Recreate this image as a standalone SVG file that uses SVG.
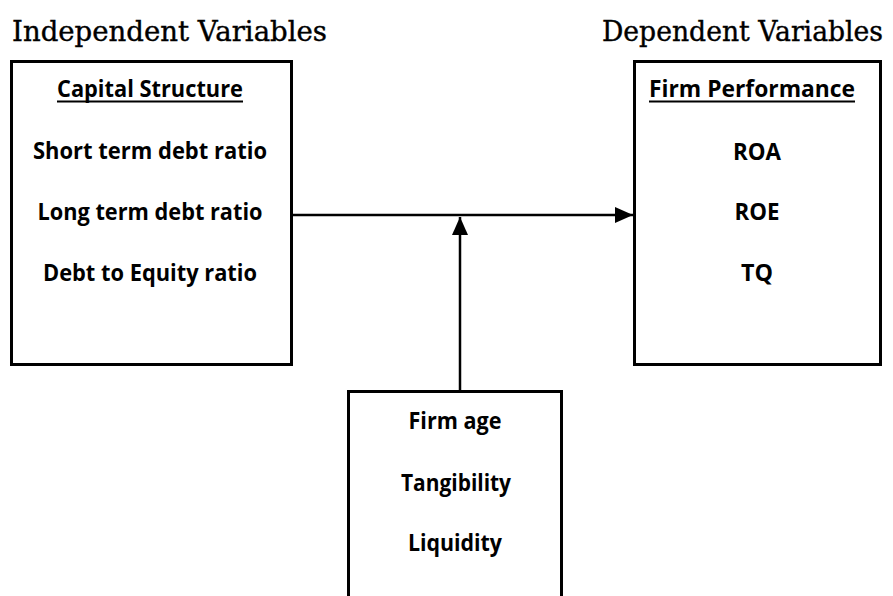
<svg xmlns="http://www.w3.org/2000/svg" width="893" height="596" viewBox="0 0 893 596">
<style>
.box{fill:#fff;stroke:#000;stroke-width:3}
.title{font-family:"DejaVu Serif","Liberation Serif",serif;font-size:28px;fill:#000;stroke:#000;stroke-width:0.4}
.lbl{font-family:"Open Sans","Liberation Sans",Arial,sans-serif;font-weight:bold;font-size:23.5px;fill:#000;text-anchor:middle}
.ul{stroke:#000;stroke-width:2}
.conn{stroke:#000;stroke-width:2.5;fill:none}
</style>
<defs>
<marker id="arr" viewBox="0 0 18 16" refX="18" refY="8" markerWidth="18" markerHeight="16" markerUnits="userSpaceOnUse" orient="auto">
<path d="M0,0 L18,8 L0,16 Z" fill="#000"/>
</marker>
</defs>
<text class="title" x="12" y="41" textLength="315" lengthAdjust="spacingAndGlyphs">Independent Variables</text>
<text class="title" x="602" y="41" textLength="281" lengthAdjust="spacingAndGlyphs">Dependent Variables</text>
<g id="connectors">
<line class="conn" x1="293" y1="215" x2="633" y2="215" marker-end="url(#arr)"/>
<line class="conn" x1="460" y1="391" x2="460" y2="217" marker-end="url(#arr)"/>
</g>
<g id="capital-structure">
<rect class="box" x="11.5" y="61.5" width="280" height="303"/>
<text class="lbl" x="150" y="97" textLength="186" lengthAdjust="spacingAndGlyphs">Capital Structure</text>
<line class="ul" x1="57" y1="101.5" x2="243" y2="101.5"/>
<text class="lbl" x="150" y="159" textLength="234" lengthAdjust="spacingAndGlyphs">Short term debt ratio</text>
<text class="lbl" x="150" y="220" textLength="225" lengthAdjust="spacingAndGlyphs">Long term debt ratio</text>
<text class="lbl" x="150" y="281" textLength="214" lengthAdjust="spacingAndGlyphs">Debt to Equity ratio</text>
</g>
<g id="firm-performance">
<rect class="box" x="634.5" y="61.5" width="246" height="303"/>
<text class="lbl" x="752" y="97" textLength="206" lengthAdjust="spacingAndGlyphs">Firm Performance</text>
<line class="ul" x1="649" y1="101.5" x2="855" y2="101.5"/>
<text class="lbl" x="757" y="160" textLength="48" lengthAdjust="spacingAndGlyphs">ROA</text>
<text class="lbl" x="757" y="220" textLength="45" lengthAdjust="spacingAndGlyphs">ROE</text>
<text class="lbl" x="757" y="281" textLength="32" lengthAdjust="spacingAndGlyphs">TQ</text>
</g>
<g id="control-variables">
<rect class="box" x="348.5" y="391.5" width="213" height="220"/>
<text class="lbl" x="455" y="429" textLength="93" lengthAdjust="spacingAndGlyphs">Firm age</text>
<text class="lbl" x="456" y="491" textLength="110" lengthAdjust="spacingAndGlyphs">Tangibility</text>
<text class="lbl" x="455" y="551" textLength="94" lengthAdjust="spacingAndGlyphs">Liquidity</text>
</g>
</svg>
